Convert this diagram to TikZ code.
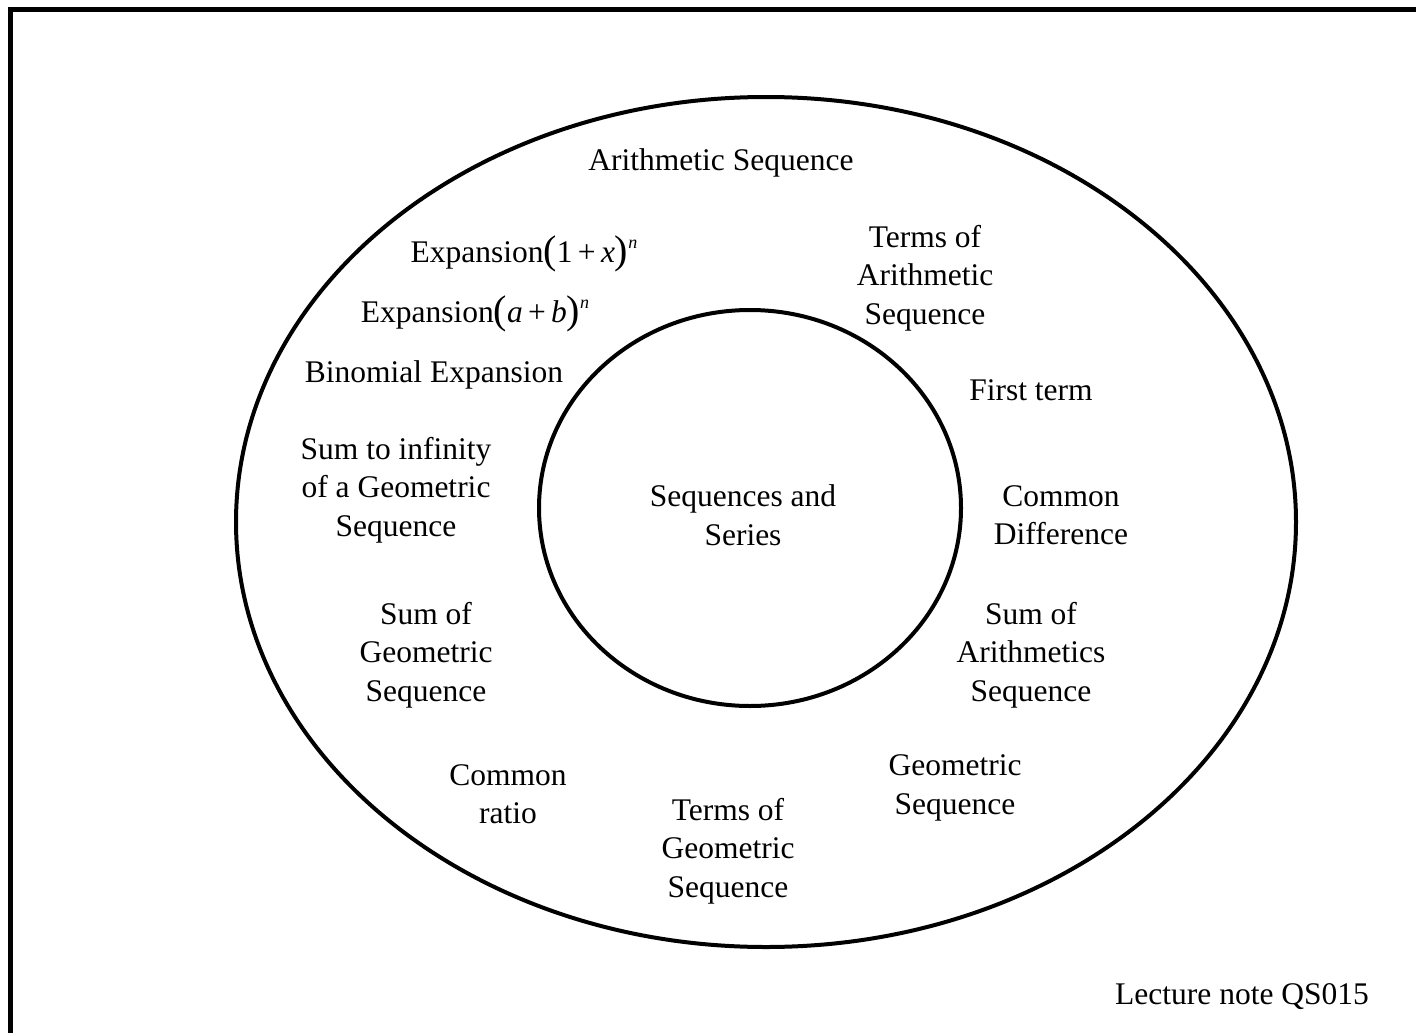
\documentclass[tikz,border=0pt]{standalone}
\usepackage{fontspec}
\setmainfont{Liberation Serif}
\begin{document}
\begin{tikzpicture}[x=1pt,y=-1pt,
  lbl/.style={align=center,inner sep=0pt,font=\fontsize{31.5}{38.5}\selectfont}]
\useasboundingbox (0,0) rectangle (1416,1033);
\draw[line width=5pt] (10.5,1045) -- (10.5,9.5) -- (1425,9.5);
\draw[line width=4pt] (766,522) ellipse [x radius=530, y radius=425];
\draw[line width=4pt] (750,508) ellipse [x radius=211, y radius=198];
\newcommand{\bigpar}[1]{{\fontsize{40}{40}\selectfont\raisebox{-1.5pt}{#1}}}
\node[lbl] (arith) at (721,163) {Arithmetic Sequence};
\node[lbl] (exp1) at (524,254) {Expansion\bigpar{(}1\,+\,\textit{x}\bigpar{)}\raisebox{14pt}{\fontsize{18}{18}\selectfont\textit{n}}};
\node[lbl] (exp2) at (475,314) {Expansion\bigpar{(}\textit{a}\,+\,\textit{b}\bigpar{)}\raisebox{14pt}{\fontsize{18}{18}\selectfont\textit{n}}};
\node[lbl] (binom) at (434,375) {Binomial Expansion};
\node[lbl] (suminf) at (396,490) {Sum to infinity\\of a Geometric\\Sequence};
\node[lbl] (sumgeo) at (426,655) {Sum of\\Geometric\\Sequence};
\node[lbl] (ratio) at (508,794) {Common\\ratio};
\node[lbl] (termgeo) at (728,851) {Terms of\\Geometric\\Sequence};
\node[lbl] (geo) at (955,788) {Geometric\\Sequence};
\node[lbl] (sumar) at (1031,655) {Sum of\\Arithmetics\\Sequence};
\node[lbl] (diff) at (1061,515) {Common\\Difference};
\node[lbl] (first) at (1031,390) {First term};
\node[lbl] (termar) at (925,278) {Terms of\\Arithmetic\\Sequence};
\node[lbl] (center) at (743,515) {Sequences and\\Series};
\node[lbl] (note) at (1242,997) {Lecture note QS015};
\end{tikzpicture}
\end{document}
